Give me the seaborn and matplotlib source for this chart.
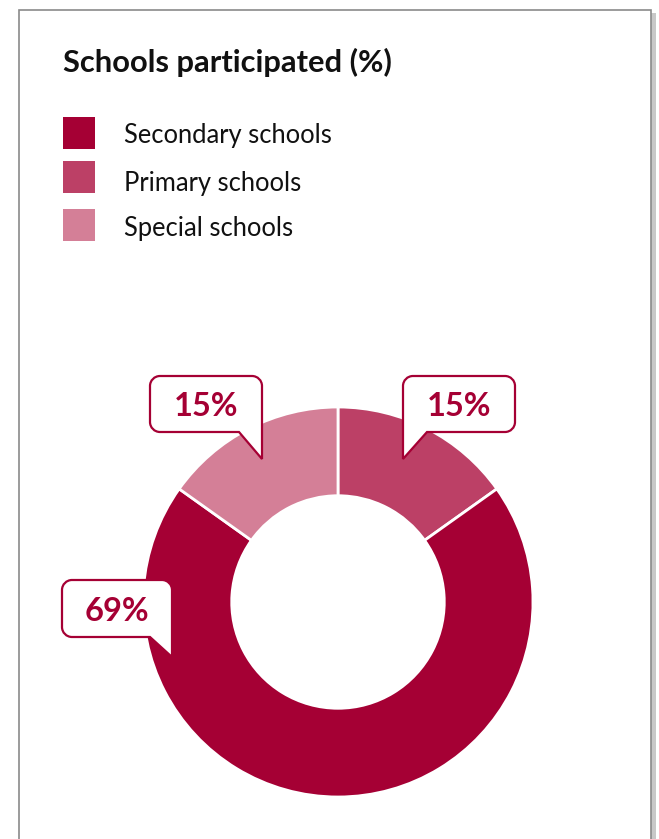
import matplotlib
matplotlib.use("Agg")
import matplotlib.pyplot as plt
import seaborn as sns
from matplotlib.path import Path
from matplotlib.patches import PathPatch, Rectangle
import numpy as np

sns.set_theme(style="white")
plt.rcParams['font.family'] = ['Lato', 'DejaVu Sans']

# ---- data ----
title = "Schools participated (%)"
legend_labels = ["Secondary schools", "Primary schools", "Special schools"]
pie_labels = ["Primary schools", "Secondary schools", "Special schools"]
pie_values = [15, 69, 15]
label_texts = ["15%", "69%", "15%"]
colors = {"Secondary schools": "#A50034", "Primary schools": "#BC4066", "Special schools": "#D47F97"}
dark = "#A50034"

W, H = 659, 839
fig = plt.figure(figsize=(W / 100, H / 100), dpi=100)
fig.patch.set_facecolor("white")

# overlay axes in pixel coordinates
ov = fig.add_axes([0, 0, 1, 1])
ov.set_xlim(0, W)
ov.set_ylim(H, 0)
ov.axis("off")

# card frame with shadow
ov.add_patch(Rectangle((22, 13), 634, 840, facecolor="#c8c8c8", edgecolor="none", zorder=0))
ov.add_patch(Rectangle((19, 10), 632, 840, facecolor="white", edgecolor="#8a8a8a", lw=1.2, zorder=1))

# title
ov.text(63, 72, title, fontsize=22.2, fontweight="bold", color="#111111", va="baseline", ha="left", zorder=3)

# legend
sq_tops = [117, 161, 209]
baselines = [143, 191, 236]
for lab, y, b in zip(legend_labels, sq_tops, baselines):
    ov.add_patch(Rectangle((63, y), 32, 31.5, facecolor=colors[lab], edgecolor="none", zorder=3))
    ov.text(124, b, lab, fontsize=18.4, color="#111111", va="baseline", ha="left", zorder=3)

# donut
cx, cy, R = 338, 602, 195
ax = fig.add_axes([(cx - R) / W, (H - cy - R) / H, 2 * R / W, 2 * R / H])
ax.set_zorder(2)
ax.pie(pie_values, colors=[colors[l] for l in pie_labels], startangle=90, counterclock=False,
       radius=1, wedgeprops=dict(width=0.455, edgecolor="white", linewidth=2))
ax.set_xlim(-1, 1)
ax.set_ylim(-1, 1)
ax.set_aspect("equal")
ax.axis("off")

ov2 = fig.add_axes([0, 0, 1, 1])
ov2.set_zorder(5)
ov2.set_xlim(0, W)
ov2.set_ylim(H, 0)
ov2.axis("off")
ov2.patch.set_alpha(0)


def callout(x0, x1, y0, y1, tail_side, tail_x, tip_y, text, r=10):
    k = 0.5523 * r
    verts, codes = [], []

    def mv(p):
        verts.append(p); codes.append(Path.MOVETO)

    def ln(p):
        verts.append(p); codes.append(Path.LINETO)

    def cv(p1, p2, p3):
        verts.extend([p1, p2, p3]); codes.extend([Path.CURVE4] * 3)

    mv((x0 + r, y0))
    ln((x1 - r, y0))
    cv((x1 - r + k, y0), (x1, y0 + r - k), (x1, y0 + r))
    if tail_side == "right":
        ln((x1, tip_y))
        ln((tail_x, y1))
    else:
        ln((x1, y1 - r))
        cv((x1, y1 - r + k), (x1 - r + k, y1), (x1 - r, y1))
    if tail_side == "left":
        ln((tail_x, y1))
        ln((x0, tip_y))
        ln((x0, y0 + r))
    else:
        ln((x0 + r, y1))
        cv((x0 + r - k, y1), (x0, y1 - r + k), (x0, y1 - r))
        ln((x0, y0 + r))
    cv((x0, y0 + r - k), (x0 + r - k, y0), (x0 + r, y0))
    verts.append((x0 + r, y0)); codes.append(Path.CLOSEPOLY)
    ov2.add_patch(PathPatch(Path(verts, codes), facecolor="white", edgecolor=dark, lw=1.6,
                            joinstyle="miter", zorder=6))
    ov2.text((x0 + x1) / 2, (y0 + y1) / 2 + 3, text, fontsize=23.5, fontweight="bold", color=dark,
             ha="center", va="center", zorder=7)


callout(150, 262, 376, 432, "right", 239, 459, label_texts[2])
callout(403, 515, 376, 432, "left", 427, 459, label_texts[0])
callout(62, 172, 580, 637, "right", 150, 657, label_texts[1])

fig.savefig("out.png", dpi=100, facecolor="white")
